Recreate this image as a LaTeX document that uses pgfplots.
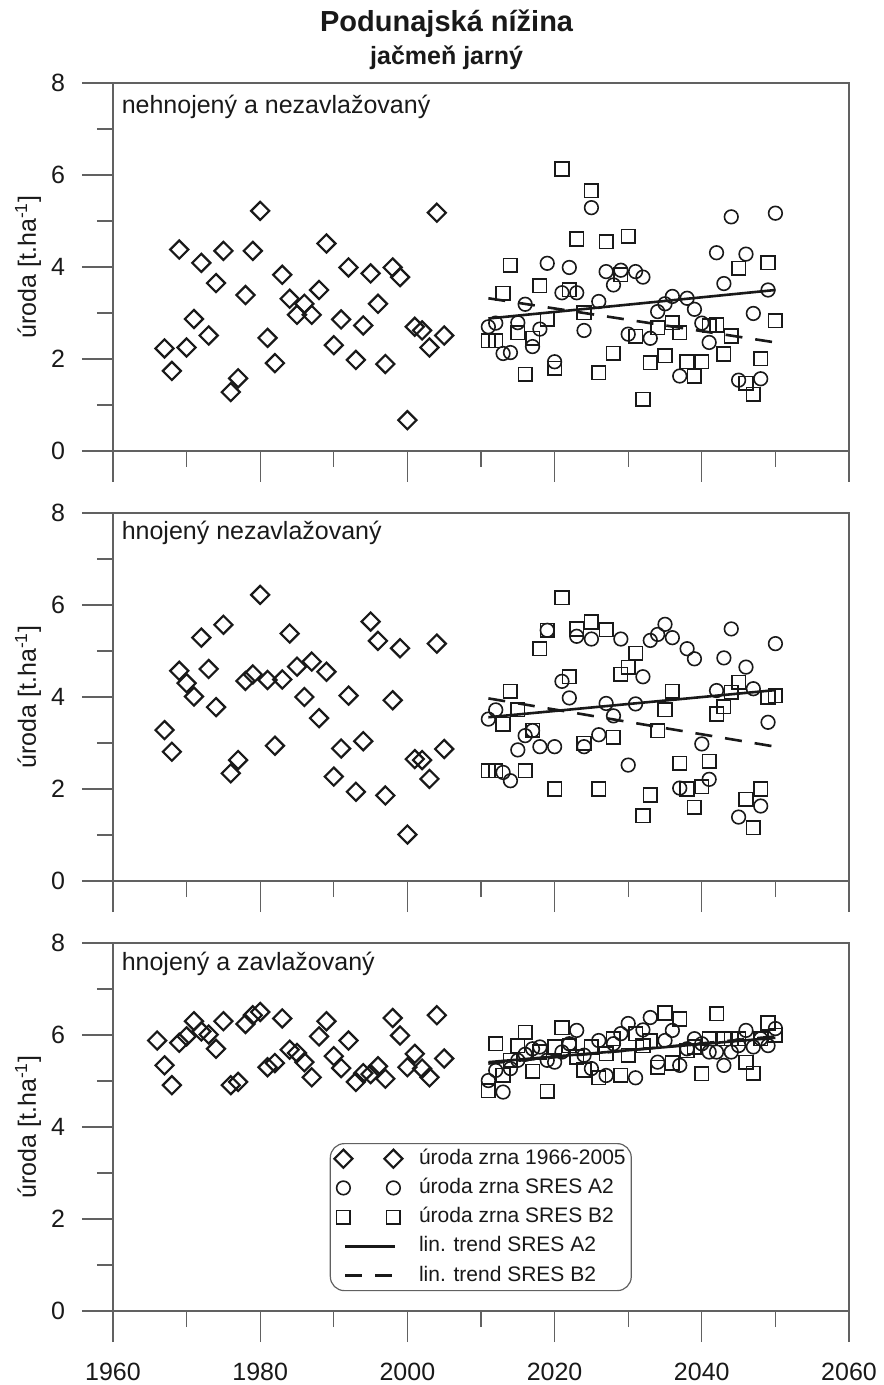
\documentclass[border=0pt]{standalone}
\usepackage{fontspec}
\setmainfont{Liberation Sans}
\usepackage{pgfplots}
\usepackage{pgfplotstable}
\pgfplotsset{compat=1.18}

% observed yields 1966-2005 (panel 1, 2, 3)
\pgfplotstableread{
year p1 p2 p3
1966 nan nan 5.88
1967 2.23 3.28 5.34
1968 1.74 2.81 4.91
1969 4.38 4.57 5.83
1970 2.25 4.30 5.97
1971 2.87 4.01 6.30
1972 4.09 5.29 6.08
1973 2.51 4.61 6.01
1974 3.65 3.78 5.70
1975 4.35 5.57 6.30
1976 1.28 2.34 4.91
1977 1.58 2.63 4.98
1978 3.39 4.35 6.24
1979 4.35 4.49 6.43
1980 5.22 6.22 6.50
1981 2.46 4.37 5.30
1982 1.91 2.94 5.39
1983 3.83 4.38 6.36
1984 3.31 5.38 5.68
1985 2.96 4.66 5.61
1986 3.20 4.00 5.41
1987 2.96 4.77 5.08
1988 3.50 3.54 5.97
1989 4.51 4.55 6.30
1990 2.30 2.27 5.54
1991 2.86 2.88 5.28
1992 3.99 4.03 5.88
1993 1.98 1.94 4.98
1994 2.73 3.04 5.17
1995 3.86 5.64 5.15
1996 3.20 5.22 5.32
1997 1.89 1.86 5.05
1998 3.99 3.93 6.37
1999 3.78 5.06 5.99
2000 0.67 1.01 5.30
2001 2.70 2.65 5.59
2002 2.62 2.63 5.27
2003 2.25 2.22 5.08
2004 5.18 5.16 6.43
2005 2.51 2.87 5.49
}\histdata

% scenario yields 2011-2050 (a = SRES A2, b = SRES B2; 1..3 = panel)
\pgfplotstableread{
year a1 b1 a2 b2 a3 b3
2011 2.70 2.40 3.52 2.40 5.01 4.79
2012 2.78 2.40 3.72 2.40 5.23 5.81
2013 2.12 3.43 2.36 3.41 4.76 5.12
2014 2.14 4.04 2.18 4.12 5.27 5.45
2015 2.79 2.57 2.85 3.72 5.45 5.77
2016 3.19 1.67 3.16 2.40 5.58 6.06
2017 2.27 2.45 3.27 3.28 5.70 5.21
2018 2.65 3.59 2.92 5.05 5.74 5.63
2019 4.08 2.86 5.45 5.45 5.45 4.78
2020 1.94 1.80 2.92 2.00 5.41 5.74
2021 3.44 6.13 4.34 6.16 5.63 6.16
2022 3.99 3.51 3.98 4.44 5.81 5.77
2023 3.44 4.61 5.32 5.48 6.10 5.52
2024 2.62 3.01 2.92 2.99 5.56 5.24
2025 5.29 5.66 5.26 5.63 5.27 5.74
2026 3.25 1.70 3.18 2.00 5.88 5.07
2027 3.90 4.55 3.86 5.46 5.12 5.59
2028 3.61 2.12 3.59 3.12 5.81 5.92
2029 3.93 3.83 5.26 4.49 6.03 5.12
2030 2.54 4.67 2.52 4.65 6.25 5.56
2031 3.90 2.49 3.85 4.95 5.07 6.03
2032 3.78 1.12 4.44 1.42 6.11 5.77
2033 2.45 1.92 5.23 1.87 6.38 5.88
2034 3.03 2.68 5.36 3.27 5.41 5.30
2035 3.20 2.07 5.58 3.72 5.88 6.48
2036 3.36 2.79 5.29 4.12 6.10 5.39
2037 1.63 2.57 2.02 2.56 5.34 6.35
2038 3.32 1.94 5.05 2.00 5.70 5.66
2039 3.08 1.62 4.83 1.60 5.92 5.74
2040 2.78 1.94 2.98 2.05 5.81 5.16
2041 2.36 2.72 2.21 2.60 5.63 5.92
2042 4.31 2.74 4.14 3.63 5.63 6.46
2043 3.64 2.11 4.85 3.79 5.34 5.92
2044 5.09 2.50 5.48 4.10 5.63 5.92
2045 1.54 3.97 1.39 4.32 5.77 5.92
2046 4.28 1.47 4.65 1.78 6.10 5.41
2047 2.99 1.23 4.18 1.16 5.74 5.17
2048 1.57 2.01 1.63 2.00 5.92 5.92
2049 3.50 4.09 3.45 3.99 5.77 6.26
2050 5.17 2.83 5.16 4.03 6.14 5.99
}\sresdata

\newcommand{\fs}[1]{\fontsize{#1}{#1}\selectfont}
\colorlet{ink}{black!90}
\colorlet{frame}{black!62}

\pgfplotsset{
  panel/.style={
    scale only axis, width=368pt, height=184pt,
    xmin=1960, xmax=2060, ymin=0, ymax=8,
    xtick={1960,1980,...,2060}, minor xtick={1970,1990,...,2050},
    ytick={0,2,...,8}, minor ytick={1,3,5,7},
    tick pos=left, tick align=outside,
    major tick length=15.5pt, minor tick length=8pt,
    axis line style={draw=frame, line width=0.6pt},
    tick style={draw=frame, line width=0.6pt},
    tick label style={font=\fs{12.5}, text=ink},
    xticklabel style={yshift=-7pt},
    yticklabel style={xshift=-5pt},
    /pgf/number format/1000 sep={},
    /pgf/number format/assume math mode=true,
    ylabel={úroda [t.ha\textsuperscript{-1}]},
    every axis y label/.style={at={(axis description cs:-0.1155,0.5)},
      rotate=90, anchor=center, font=\fs{12.5}, text=ink},
    clip=false,
  },
  hist/.style={only marks, color=ink, mark=square, mark size=3.2pt,
    mark options={rotate=45, line width=1.1pt, sharp corners, solid}},
  sresA/.style={only marks, color=ink, mark=o, mark size=3.4pt,
    mark options={line width=0.8pt, solid}},
  sresB/.style={only marks, color=ink, mark=square, mark size=3.4pt,
    mark options={line width=0.8pt, sharp corners, solid}},
  trendA/.style={no marks, color=ink, line width=1.3pt},
  trendB/.style={no marks, color=ink, line width=1.3pt, dash pattern=on 8.5pt off 6.5pt},
  markimg/.style={legend image code/.code={%
    \path[draw=none, fill=none] (-4pt,-4pt) rectangle (37pt,4pt);
    \draw[##1, only marks] plot coordinates {(0pt,0pt) (25pt,0pt)};}},
  lineimg/.style={legend image code/.code={%
    \path[draw=none, fill=none] (-4pt,-4pt) rectangle (37pt,4pt);
    \draw[##1, sharp corners] (1pt,0pt) -- (26pt,0pt);}},
}
\tikzset{panellabel/.style={anchor=base west, inner sep=0pt, xshift=4.2pt, font=\fs{12.5}, text=ink}}

\begin{document}
\begin{tikzpicture}
\useasboundingbox (-56.5pt,41.5pt) rectangle (385pt,-651pt);

\begin{axis}[panel, at={(0pt,0pt)}, anchor=north west, xticklabels={}]
\addplot[hist] table[x=year,y=p1]{\histdata};
\addplot[sresA] table[x=year,y=a1]{\sresdata};
\addplot[sresB] table[x=year,y=b1]{\sresdata};
\addplot[trendA] coordinates {(2011,2.88) (2050,3.50)};
\addplot[trendB] coordinates {(2011,3.32) (2050,2.36)};
\node[panellabel, yshift=-15.5pt] at (rel axis cs:0,1) {nehnojený a nezavlažovaný};
\end{axis}

\begin{axis}[panel, at={(0pt,-215pt)}, anchor=north west, xticklabels={}]
\addplot[hist] table[x=year,y=p2]{\histdata};
\addplot[sresA] table[x=year,y=a2]{\sresdata};
\addplot[sresB] table[x=year,y=b2]{\sresdata};
\addplot[trendA] coordinates {(2011,3.56) (2050,4.15)};
\addplot[trendB] coordinates {(2011,3.97) (2050,2.92)};
\node[panellabel, yshift=-13.3pt] at (rel axis cs:0,1) {hnojený nezavlažovaný};
\end{axis}

\begin{axis}[panel, at={(0pt,-430pt)}, anchor=north west,
  legend style={at={(axis description cs:0.2945,0.4565)}, anchor=north west,
    draw=frame, line width=0.6pt, rounded corners=7pt,
    font=\fs{10.5}, text=ink,
    inner xsep=2pt, inner ysep=1.5pt, row sep=2.5pt,
    nodes={inner sep=0.8pt, text height=8pt, text depth=2.5pt}},
  legend cell align=left]
\addplot[hist, markimg] table[x=year,y=p3]{\histdata};
\addlegendentry{úroda zrna 1966-2005}
\addplot[sresA, markimg] table[x=year,y=a3]{\sresdata};
\addlegendentry{úroda zrna SRES A2}
\addplot[sresB, markimg] table[x=year,y=b3]{\sresdata};
\addlegendentry{úroda zrna SRES B2}
\addplot[trendA, lineimg] coordinates {(2011,5.41) (2050,5.94)};
\addlegendentry{lin. trend SRES A2}
\addplot[trendB, lineimg] coordinates {(2011,5.38) (2050,5.97)};
\addlegendentry{lin. trend SRES B2}
\node[panellabel, yshift=-13.8pt] at (rel axis cs:0,1) {hnojený a zavlažovaný};
\end{axis}

\node[anchor=base, font=\bfseries\fs{14.5}, text=ink] at (166.8pt,25.5pt) {Podunajská nížina};
\node[anchor=base, font=\bfseries\fs{12.5}, text=ink] at (166.8pt,9pt) {jačmeň jarný};
\end{tikzpicture}
\end{document}
